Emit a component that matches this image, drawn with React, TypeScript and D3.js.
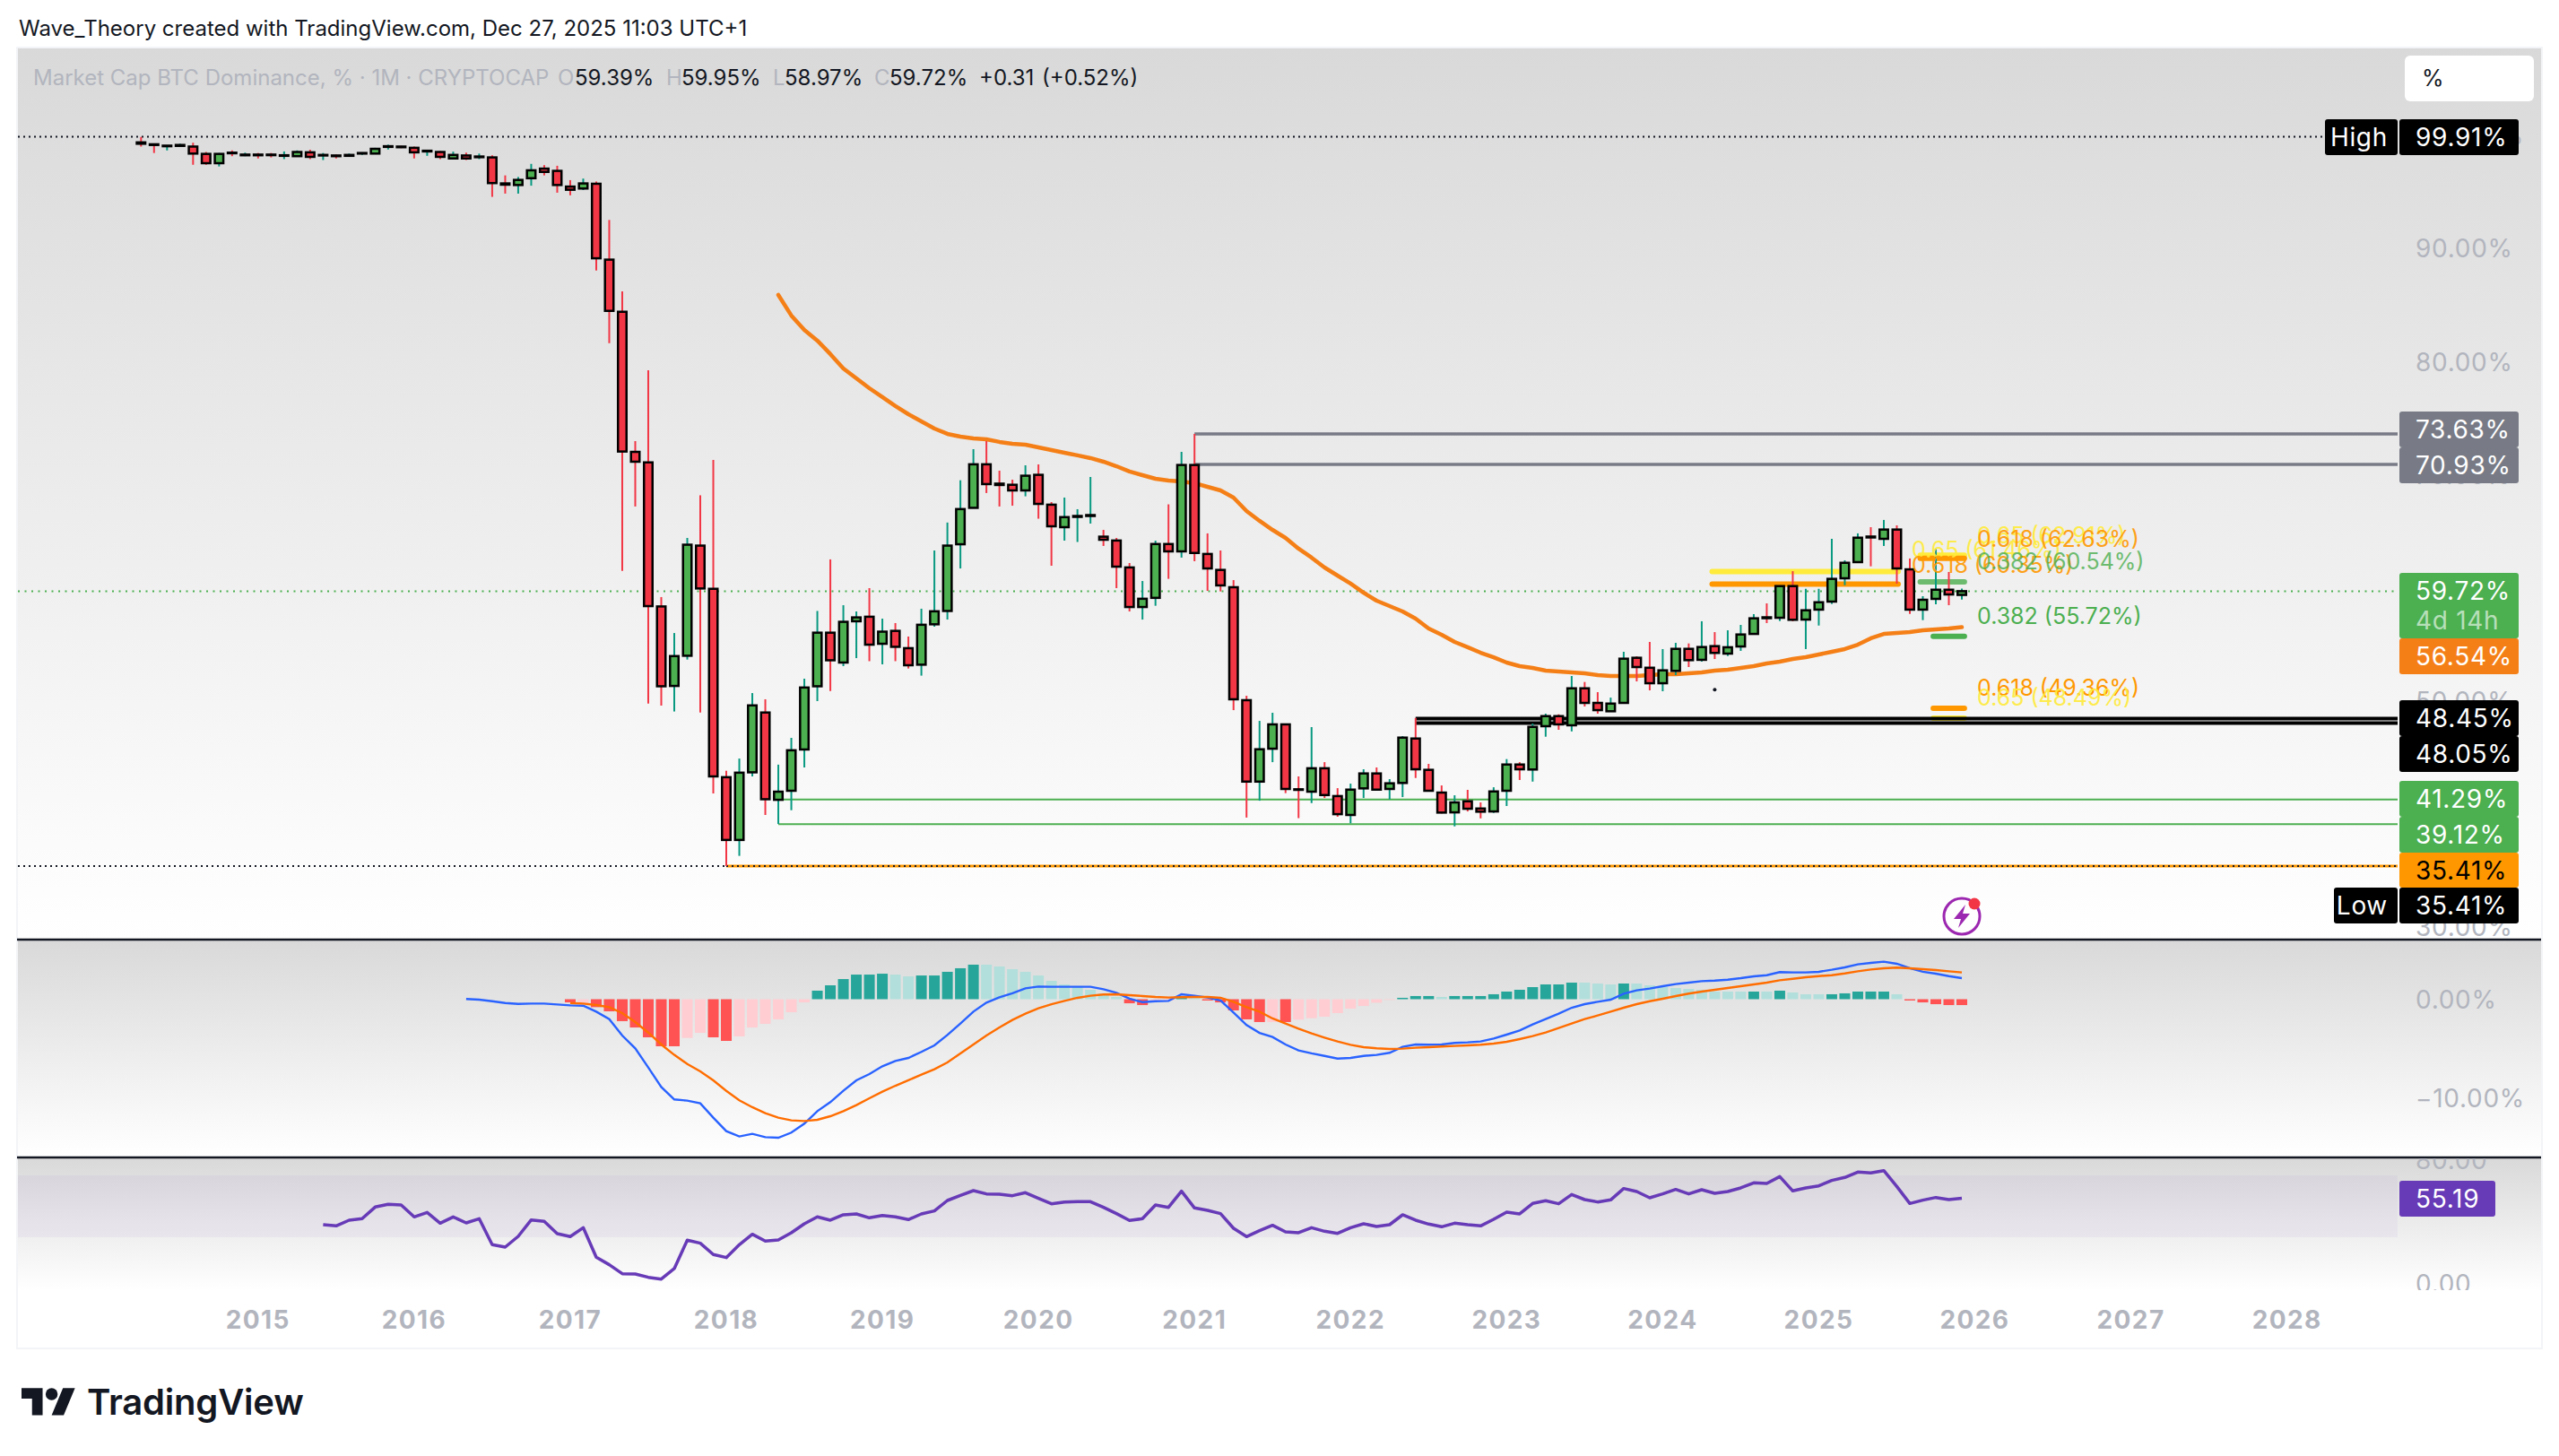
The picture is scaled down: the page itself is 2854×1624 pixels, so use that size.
import React, { useEffect, useRef } from 'react';
import * as d3 from 'd3';

const W = 2854;
const H = 1624;

// monthly candles, Apr 2014 .. Dec 2025
const opens = [99.41,99.24,99.07,99.10,99.04,98.39,97.57,98.50,98.27,98.33,
  98.33,98.22,98.19,98.53,98.25,98.25,98.22,98.42,98.42,99.01,
  99.04,98.93,98.61,98.56,97.99,98.25,98.10,98.08,95.78,95.64,
  96.24,97.09,96.89,95.50,95.33,95.75,89.04,84.43,72.04,71.11,
  58.37,51.34,54.01,63.75,59.93,43.27,37.72,43.70,48.99,41.27,
  42.07,45.72,51.31,56.05,53.41,57.06,57.46,55.07,56.21,54.68,
  53.22,56.79,57.97,63.87,67.09,70.94,69.23,69.13,68.63,70.01,
  67.37,65.38,66.29,66.37,64.54,64.20,61.82,58.32,59.13,63.89,
  63.24,70.88,63.01,61.60,60.07,50.08,42.88,45.79,47.94,42.20,
  41.99,44.06,41.60,39.93,42.28,43.60,42.23,42.76,46.69,43.92,
  41.91,40.16,41.14,40.50,40.24,42.07,44.39,43.95,47.78,48.67,
  47.86,51.13,49.84,49.10,49.84,53.83,52.95,51.58,52.67,54.62,
  53.65,54.86,54.20,54.83,55.94,57.41,57.37,60.17,57.21,58.09,
  58.80,60.86,62.29,64.55,64.35,65.17,61.65,58.09,59.04,59.85,59.39];
const closes = [99.29,99.18,99.12,99.18,98.42,97.57,98.39,98.45,98.33,98.27,
  98.28,98.27,98.56,98.13,98.30,98.19,98.30,98.47,98.84,99.07,
  98.98,98.53,98.67,98.13,98.30,97.99,98.16,95.81,95.67,96.09,
  96.94,96.80,95.64,95.22,95.78,89.16,84.51,72.07,71.17,58.40,
  51.31,53.98,63.83,59.96,43.34,37.72,43.67,49.62,41.32,41.99,
  45.65,51.20,56.05,53.61,57.01,57.40,54.99,56.14,54.80,53.17,
  56.75,57.94,63.75,66.98,70.94,69.19,69.11,68.63,69.93,67.44,
  65.46,66.27,66.37,66.45,64.27,61.89,58.32,59.05,63.89,63.24,
  70.88,63.10,61.73,60.23,50.16,42.88,45.74,47.94,42.23,42.15,
  44.06,41.69,40.00,42.17,43.60,42.17,42.73,46.77,43.97,42.07,
  40.14,41.04,40.48,40.22,42.01,44.39,43.97,47.72,48.67,47.94,
  51.13,49.84,49.20,49.78,53.75,53.01,51.58,52.72,54.62,53.62,
  54.78,54.26,54.76,55.89,57.32,57.33,60.17,57.19,58.03,58.74,
  60.81,62.23,64.45,64.47,65.17,61.73,58.09,58.96,59.85,59.43,59.72];
const highs = [99.89,99.27,99.15,99.29,99.38,98.56,98.47,98.70,98.50,98.47,
  98.47,98.61,98.70,98.76,98.47,98.33,98.42,98.53,98.93,99.21,
  99.10,99.04,98.70,98.64,98.59,98.50,98.42,98.27,96.49,96.35,
  97.51,97.40,97.34,96.07,96.21,95.95,92.55,86.24,72.99,79.26,
  59.20,56.02,64.43,68.20,71.33,43.84,44.92,50.71,50.16,44.38,
  46.75,51.98,57.97,62.53,58.48,57.93,59.99,57.29,56.90,55.71,
  58.17,63.32,65.79,69.53,72.28,72.99,70.38,69.58,70.85,70.93,
  67.60,68.00,66.97,69.82,65.14,64.43,62.21,60.62,64.19,67.40,
  72.04,73.63,64.83,63.32,60.70,50.47,48.25,48.97,47.94,43.34,
  47.70,44.60,42.30,42.70,43.97,44.13,43.10,46.90,48.51,44.45,
  42.54,41.67,42.15,41.04,42.38,44.87,44.60,48.01,48.89,48.83,
  52.22,51.69,50.79,50.31,54.36,53.96,55.23,54.60,55.15,55.10,
  57.06,56.10,56.26,56.74,57.69,58.64,60.17,61.49,59.93,59.93,
  64.35,62.45,64.83,65.38,66.02,65.54,62.61,59.28,63.48,61.42,59.95];
const lows = [99.04,98.47,98.70,99.04,97.43,97.43,97.28,98.19,98.19,97.99,
  98.08,97.93,98.13,97.93,97.85,97.99,98.19,98.30,98.36,98.78,
  98.90,97.99,98.22,97.93,97.93,97.85,97.93,94.59,94.88,94.88,
  95.58,96.49,94.96,94.73,95.19,88.08,81.65,61.51,67.21,49.79,
  49.60,49.08,53.67,48.99,41.83,35.41,36.31,43.34,39.93,39.13,
  40.35,44.13,50.00,50.89,53.09,53.80,53.53,53.25,53.53,52.88,
  52.25,56.58,57.21,61.73,67.09,68.40,67.21,67.28,68.11,66.13,
  61.97,64.19,64.07,65.70,63.72,59.99,57.93,57.21,58.43,60.81,
  62.69,62.37,59.75,59.70,49.20,39.70,41.19,44.60,41.86,39.65,
  40.98,41.43,39.77,39.19,41.43,42.09,41.30,41.51,43.20,42.01,
  40.06,38.92,40.24,39.63,40.11,40.72,43.02,42.88,46.85,47.46,
  47.32,49.52,48.89,49.10,49.84,51.74,50.95,50.87,52.30,53.01,
  53.49,53.72,53.99,54.44,55.94,56.90,57.08,57.06,54.60,56.68,
  58.59,60.25,62.29,61.92,63.72,60.39,57.71,57.16,58.56,58.48,58.97];

// 50 month average, first value is candle 49
const maStart = 49;
const maValues = [85.92,84.10,82.83,81.88,80.69,79.42,78.54,77.67,76.88,76.09,
  75.37,74.74,74.10,73.63,73.39,73.23,73.15,72.92,72.76,72.68,
  72.44,72.20,71.96,71.73,71.49,71.17,70.77,70.30,69.98,69.66,
  69.50,69.43,69.27,68.95,68.63,68.00,66.81,65.94,65.14,64.43,
  63.48,62.69,61.81,61.10,60.39,59.59,58.88,58.40,57.93,57.29,
  56.42,55.87,55.23,54.76,54.28,53.88,53.41,53.09,52.93,52.69,
  52.61,52.54,52.46,52.30,52.22,52.22,52.22,52.30,52.38,52.38,
  52.46,52.54,52.69,52.77,52.93,53.09,53.33,53.49,53.72,53.88,
  54.12,54.36,54.60,54.99,55.55,55.94,56.02,56.10,56.26,56.34,56.42,56.54];

const macdStart = 25;
const macdValues = [0.02,-0.05,-0.20,-0.38,-0.47,-0.44,-0.44,-0.53,-0.62,-0.65,
  -1.25,-2.00,-3.66,-4.95,-6.88,-8.84,-10.10,-10.22,-10.49,-11.94,
  -13.29,-13.83,-13.56,-13.90,-13.96,-13.44,-12.54,-11.28,-10.37,-9.23,
  -8.17,-7.54,-6.76,-6.22,-5.92,-5.31,-4.65,-3.60,-2.45,-1.25,
  -0.35,0.20,0.59,1.10,1.28,1.25,1.25,1.25,1.25,1.01,
  0.65,0.05,-0.29,-0.20,-0.17,0.50,0.35,0.17,-0.13,-1.34,
  -2.60,-3.39,-3.81,-4.56,-5.16,-5.46,-5.71,-5.98,-5.92,-5.71,
  -5.61,-5.40,-4.80,-4.56,-4.59,-4.56,-4.41,-4.35,-4.26,-3.96,
  -3.57,-3.15,-2.54,-2.00,-1.46,-0.86,-0.50,-0.26,-0.05,0.56,
  0.89,1.07,1.31,1.52,1.67,1.82,1.88,1.97,2.12,2.30,
  2.42,2.73,2.70,2.70,2.76,2.97,3.21,3.51,3.66,3.78,
  3.57,3.12,2.76,2.57,2.33,2.12];

const signalStart = 33;
const signalValues = [-0.38,-0.44,-0.59,-0.80,-1.40,-2.30,-3.36,-4.56,-5.61,-6.52,
  -7.27,-8.17,-9.23,-10.19,-10.88,-11.49,-11.94,-12.21,-12.27,-12.15,
  -11.79,-11.28,-10.67,-9.98,-9.32,-8.72,-8.17,-7.60,-7.06,-6.37,
  -5.46,-4.56,-3.66,-2.85,-2.09,-1.46,-0.92,-0.50,-0.17,0.14,
  0.35,0.47,0.50,0.41,0.32,0.23,0.17,0.20,0.23,0.23,
  0.14,-0.26,-0.80,-1.25,-1.94,-2.45,-2.97,-3.45,-3.87,-4.26,
  -4.59,-4.83,-4.95,-5.01,-4.98,-4.89,-4.83,-4.77,-4.71,-4.65,
  -4.59,-4.47,-4.29,-4.02,-3.72,-3.36,-2.91,-2.45,-2.00,-1.64,
  -1.25,-0.86,-0.50,-0.20,0.05,0.32,0.56,0.77,0.95,1.13,
  1.31,1.49,1.67,1.91,2.06,2.21,2.33,2.42,2.60,2.81,
  2.99,3.12,3.18,3.12,3.03,2.94,2.81,2.70];

const histStart = 33;
const histValues = [-0.32,-0.38,-0.80,-1.22,-2.21,-2.85,-3.84,-4.74,-4.74,-3.90,
  -3.39,-3.84,-4.20,-3.75,-2.85,-2.48,-2.03,-1.31,-0.32,0.86,
  1.40,2.03,2.48,2.48,2.57,2.48,2.30,2.39,2.39,2.76,
  3.12,3.48,3.48,3.30,3.03,2.76,2.39,1.85,1.49,1.31,
  0.95,0.56,0.23,-0.41,-0.59,-0.20,-0.13,0.32,0.11,-0.13,
  -0.32,-1.13,-2.03,-2.30,-2.30,-2.30,-2.06,-1.91,-1.76,-1.40,
  -0.95,-0.68,-0.35,-0.07,0.14,0.32,0.32,0.23,0.32,0.32,
  0.32,0.50,0.77,0.95,1.22,1.49,1.49,1.67,1.67,1.58,
  1.49,1.58,1.58,1.40,1.22,1.13,1.04,0.95,0.77,0.77,
  0.77,0.77,0.77,0.86,0.68,0.50,0.50,0.50,0.59,0.77,
  0.77,0.77,0.50,-0.13,-0.32,-0.50,-0.59,-0.59];
// d = strong colour, l = pale colour
const histShade = 'dl' + 'ddddddd' + 'll' + 'dd' + 'llllll' + 'dddddd' + 'll' + 'ddddd' + 'lllllllllll'
  + 'dd' + 'll' + 'd' + 'l' + 'ddddd' + 'l' + 'd' + 'llllllll' + 'ddd' + 'l' + 'dddddddddd'
  + 'lll' + 'd' + 'lllllllll' + 'd' + 'l' + 'd' + 'lll' + 'ddddd' + 'l' + 'ddddd';

const rsiStart = 14;
const rsiValues = [38.12,37.35,41.02,41.99,49.52,51.26,50.88,43.15,46.05,39.09,
  43.15,39.28,41.99,25.18,23.63,30.59,41.22,40.25,32.33,30.40,
  36.19,17.07,12.24,6.44,6.25,4.12,2.96,9.72,28.08,26.15,
  18.81,16.87,25.18,31.94,27.50,28.27,32.91,38.70,43.15,41.02,
  44.50,45.08,42.57,44.11,43.15,41.41,45.08,47.01,53.77,57.06,
  60.15,58.02,57.83,56.86,58.80,55.13,51.65,52.81,53.00,53.00,
  49.33,45.27,40.83,41.99,50.88,49.33,59.76,48.94,47.40,45.27,
  35.81,30.40,34.26,37.74,33.49,32.91,36.19,33.87,32.52,36.19,
  38.70,36.97,38.12,44.50,41.02,38.51,36.77,39.09,38.12,37.35,
  41.60,46.24,45.08,51.84,53.58,51.65,57.64,54.35,52.81,54.16,
  61.50,59.57,55.51,58.02,60.92,58.02,60.73,58.41,59.57,61.89,
  65.17,64.79,69.23,59.96,61.89,63.24,66.72,68.65,72.13,71.55,
  73.09,62.85,51.84,53.97,55.71,54.35,55.19];

const priceTicks = [100, 90, 80, 70, 60, 50, 40, 30];
const macdTicks = [0, -10];
const rsiTicks = [80, 0];
const yearLabels = [2015, 2016, 2017, 2018, 2019, 2020, 2021, 2022, 2023, 2024, 2025, 2026, 2027, 2028];

const FONT = 'Inter, "Liberation Sans", sans-serif';
const GREEN = '#4caf50';
const ORANGE = '#ff9800';
const YELLOW = '#ffeb3b';
const AXIS_TEXT = '#b2b5be';

// [value, from candle, to candle, colour, opacity]
const fibLines: [number, number, number, string, number][] = [
  [61.46, 120.8, 135.1, YELLOW, 1],
  [60.35, 120.8, 135.1, ORANGE, 1],
  [62.91, 136.8, 140.2, YELLOW, 1],
  [62.63, 136.8, 140.2, ORANGE, 1],
  [60.54, 136.8, 140.2, GREEN, 0.8],
  [55.72, 137.8, 140.2, GREEN, 1],
  [49.36, 137.8, 140.2, ORANGE, 1],
  [48.49, 137.8, 140.2, YELLOW, 1],
];
// [text, px x, px y, colour, opacity]
const fibLabels: [string, number, number, string, number][] = [
  ['0.65 (61.46%)', 2132, 613, YELLOW, 0.9],
  ['0.618 (60.35%)', 2132, 630, ORANGE, 0.9],
  ['0.65 (62.91%)', 2205, 597, YELLOW, 0.9],
  ['0.618 (62.63%)', 2205, 601, ORANGE, 0.9],
  ['0.382 (60.54%)', 2205, 626, GREEN, 0.8],
  ['0.382 (55.72%)', 2205, 687, GREEN, 1],
  ['0.618 (49.36%)', 2205, 767, ORANGE, 1],
  ['0.65 (48.49%)', 2205, 778, YELLOW, 0.9],
];

// [text, top, bottom, text centre, fill, text colour]
const priceBoxes: [string, number, number, number, string, string][] = [
  ['99.91%', 133, 173, 153, '#000000', '#ffffff'],
  ['73.63%', 459, 499, 479, '#787b86', '#ffffff'],
  ['70.93%', 499, 539, 519, '#787b86', '#ffffff'],
  ['59.72%', 639, 712, 659, GREEN, '#ffffff'],
  ['56.54%', 712, 752, 732, '#f57f17', '#ffffff'],
  ['48.45%', 781, 821, 801, '#000000', '#ffffff'],
  ['48.05%', 821, 861, 841, '#000000', '#ffffff'],
  ['41.29%', 871, 911, 891, GREEN, '#ffffff'],
  ['39.12%', 911, 951, 931, GREEN, '#ffffff'],
  ['35.41%', 951, 990, 971, ORANGE, '#000000'],
  ['35.41%', 990, 1030, 1010, '#000000', '#ffffff'],
];

function App() {
  const ref = useRef<SVGSVGElement>(null);

  useEffect(() => {
    if (!ref.current) return;
    const svg: any = d3.select(ref.current);
    svg.selectAll('*').remove();

    const x = d3.scaleLinear().domain([0, 140]).range([157.3, 2188]);
    const y = d3.scaleLinear().domain([35.41, 99.91]).range([966, 152.5]);
    const yMacd = d3.scaleLinear().domain([0, -10]).range([1114.5, 1225.2]);
    const yRsi = d3.scaleLinear().domain([30, 70]).range([1380, 1311]);

    const paneLeft = 20;
    const paneRight = 2834;
    const plotRight = 2674;
    const axisAttrs = { size: 28, spacing: 0.7 };

    const defs = svg.append('defs');
    const grad = defs.append('linearGradient').attr('id', 'pane').attr('x1', 0).attr('x2', 0).attr('y1', 0).attr('y2', 1);
    grad.append('stop').attr('offset', 0).attr('stop-color', '#d9d9d9');
    grad.append('stop').attr('offset', 1).attr('stop-color', '#ffffff');
    defs.append('clipPath').attr('id', 'rsiClip').append('rect')
      .attr('x', 0).attr('y', 1292).attr('width', W).attr('height', 147);
    defs.append('clipPath').attr('id', 'mainClip').append('rect')
      .attr('x', 0).attr('y', 54).attr('width', W).attr('height', 993);

    svg.append('rect').attr('width', W).attr('height', H).attr('fill', '#ffffff');

    // header
    svg.append('text').attr('x', 21).attr('y', 40).attr('font-size', 24).attr('fill', '#131722')
      .attr('font-family', FONT).text('Wave_Theory created with TradingView.com, Dec 27, 2025 11:03 UTC+1');

    // panes
    svg.append('rect').attr('x', 19).attr('y', 53).attr('width', paneRight - 18).attr('height', 1451)
      .attr('fill', 'none').attr('stroke', '#f3f4f7').attr('stroke-width', 2);
    [[54, 1047], [1049, 1290], [1292, 1440]].forEach(([a, b]) => {
      svg.append('rect').attr('x', paneLeft).attr('y', a).attr('width', paneRight - paneLeft).attr('height', b - a)
        .attr('fill', 'url(#pane)');
    });
    [1048, 1291].forEach((v) => {
      svg.append('line').attr('x1', 19).attr('x2', paneRight).attr('y1', v).attr('y2', v)
        .attr('stroke', '#131722').attr('stroke-width', 2.5);
    });

    // legend
    const legend: [string, number, string][] = [
      ['Market Cap BTC Dominance, % · 1M · CRYPTOCAP', 37, AXIS_TEXT],
      ['O', 622, AXIS_TEXT], ['59.39%', 641, '#131722'],
      ['H', 743, AXIS_TEXT], ['59.95%', 760, '#131722'],
      ['L', 862, AXIS_TEXT], ['58.97%', 875, '#131722'],
      ['C', 975, AXIS_TEXT], ['59.72%', 992, '#131722'],
      ['+0.31', 1092, '#131722'], ['(+0.52%)', 1162, '#131722'],
    ];
    svg.append('g').selectAll('text').data(legend).enter().append('text')
      .attr('x', (d: any) => d[1]).attr('y', 86).attr('dominant-baseline', 'central')
      .attr('font-size', 24).attr('font-family', FONT).attr('fill', (d: any) => d[2]).text((d: any) => d[0]);

    // price axis labels sit under the boxes
    const axisText = svg.append('g').attr('font-family', FONT).attr('font-size', axisAttrs.size)
      .attr('letter-spacing', axisAttrs.spacing).attr('fill', AXIS_TEXT);
    axisText.append('g').attr('clip-path', 'url(#mainClip)').selectAll('text').data(priceTicks).enter().append('text')
      .attr('x', 2694).attr('y', (d: number) => y(d)).attr('dominant-baseline', 'central')
      .text((d: number) => d3.format('.2f')(d) + '%');
    axisText.append('g').selectAll('text').data(macdTicks).enter().append('text')
      .attr('x', 2694).attr('y', (d: number) => yMacd(d)).attr('dominant-baseline', 'central')
      .text((d: number) => (d < 0 ? '−' : '') + d3.format('.2f')(Math.abs(d)) + '%');
    axisText.append('g').attr('clip-path', 'url(#rsiClip)').selectAll('text').data(rsiTicks).enter().append('text')
      .attr('x', 2694).attr('y', (d: number) => yRsi(d)).attr('dominant-baseline', 'central')
      .text((d: number) => d3.format('.2f')(d));
    axisText.append('g').attr('font-weight', 700).attr('letter-spacing', 1.4).selectAll('text').data(yearLabels).enter().append('text')
      .attr('x', (d: number) => x((d - 2014) * 12 - 3)).attr('y', 1472).attr('text-anchor', 'middle')
      .attr('dominant-baseline', 'central').text((d: number) => d);

    // fib strokes go under the black levels
    svg.append('g').selectAll('line').data(fibLines).enter().append('line')
      .attr('x1', (d: any) => x(d[1])).attr('x2', (d: any) => x(d[2]))
      .attr('y1', (d: any) => y(d[0])).attr('y2', (d: any) => y(d[0]))
      .attr('stroke', (d: any) => d[3]).attr('opacity', (d: any) => d[4])
      .attr('stroke-width', 6).attr('stroke-linecap', 'round');

    // level lines
    const levels = svg.append('g');
    const level = (v: number, from: number, color: string, width: number, dash?: string, xFrom?: number, xTo?: number) => {
      levels.append('line')
        .attr('x1', xFrom ?? x(from)).attr('x2', xTo ?? plotRight)
        .attr('y1', y(v)).attr('y2', y(v))
        .attr('stroke', color).attr('stroke-width', width)
        .attr('stroke-dasharray', dash ?? null);
    };
    level(99.91, 0, '#131722', 2, '2 4', paneLeft, 2590);
    level(59.72, 0, GREEN, 2, '2 5.5', paneLeft, plotRight);
    level(73.63, 81, '#787b86', 3.5);
    level(70.93, 81, '#787b86', 3.5);
    level(48.45, 98, '#000000', 4);
    level(48.05, 98, '#000000', 4);
    level(41.29, 49, GREEN, 2);
    level(39.12, 49, GREEN, 2);
    level(35.41, 0, '#131722', 2, '2 4', paneLeft, x(45));
    level(35.41, 45, ORANGE, 3);
    level(35.41, 45, '#131722', 2, '2 4');

    // small stray mark
    svg.append('circle').attr('cx', x(121)).attr('cy', y(51.0)).attr('r', 2).attr('fill', '#131722');

    // 50 month average
    const maLine = d3.line<number>().x((_, i) => x(i + maStart)).y((d) => y(d));
    svg.append('path').attr('d', maLine(maValues)).attr('fill', 'none').attr('stroke', '#f57f17')
      .attr('stroke-width', 4.5).attr('stroke-linecap', 'round').attr('stroke-linejoin', 'round');

    // candles
    const candles = svg.append('g').selectAll('g').data(opens).enter().append('g')
      .attr('transform', (_: number, i: number) => `translate(${x(i)},0)`);
    candles.append('line')
      .attr('y1', (_: number, i: number) => y(highs[i])).attr('y2', (_: number, i: number) => y(lows[i]))
      .attr('stroke', (_: number, i: number) => (closes[i] >= opens[i] ? '#089981' : '#f23645'))
      .attr('stroke-width', 2);
    candles.append('rect')
      .attr('x', -4.75).attr('width', 9.5)
      .attr('y', (_: number, i: number) => y(Math.max(opens[i], closes[i])))
      .attr('height', (_: number, i: number) => Math.abs(y(opens[i]) - y(closes[i])))
      .attr('fill', (_: number, i: number) => (closes[i] >= opens[i] ? GREEN : '#f23645'))
      .attr('stroke', '#000000').attr('stroke-width', 2.5);

    svg.append('g').attr('font-family', FONT).attr('font-size', 25).selectAll('text').data(fibLabels).enter().append('text')
      .attr('x', (d: any) => d[1]).attr('y', (d: any) => d[2]).attr('dominant-baseline', 'central')
      .attr('fill', (d: any) => d[3]).attr('opacity', (d: any) => d[4]).text((d: any) => d[0]);

    // alert icon
    const icon = svg.append('g').attr('transform', 'translate(2188,1022)');
    icon.append('circle').attr('r', 20).attr('fill', 'none').attr('stroke', '#9c27b0').attr('stroke-width', 3);
    icon.append('path').attr('d', 'M4 -13 L-9 3 L-1 3 L-4 13 L9 -3 L1 -3 Z').attr('fill', '#9c27b0');
    icon.append('circle').attr('cx', 14).attr('cy', -14).attr('r', 6.5).attr('fill', '#f23645');

    // price boxes
    const boxes = svg.append('g').attr('font-family', FONT).attr('font-size', axisAttrs.size).attr('letter-spacing', axisAttrs.spacing);
    priceBoxes.forEach(([label, top, bottom, mid, fill, color]) => {
      boxes.append('rect').attr('x', 2676).attr('y', top).attr('width', 133).attr('height', bottom - top)
        .attr('rx', 3).attr('fill', fill);
      boxes.append('text').attr('x', 2694).attr('y', mid).attr('dominant-baseline', 'central')
        .attr('fill', color).text(label);
    });
    boxes.append('text').attr('x', 2694).attr('y', 692).attr('dominant-baseline', 'central')
      .attr('fill', '#ffffff').attr('opacity', 0.6).text('4d 14h');
    [['High', 2593, 153], ['Low', 2603, 1010]].forEach(([t, left, mid]: any) => {
      boxes.append('rect').attr('x', left).attr('y', mid - 20).attr('width', 2674 - left).attr('height', 40)
        .attr('rx', 3).attr('fill', '#000000');
      boxes.append('text').attr('x', 2663).attr('y', mid).attr('text-anchor', 'end').attr('dominant-baseline', 'central')
        .attr('fill', '#ffffff').text(t);
    });

    // scale button
    svg.append('rect').attr('x', 2682).attr('y', 62).attr('width', 144).attr('height', 51).attr('rx', 6).attr('fill', '#ffffff');
    svg.append('text').attr('x', 2701).attr('y', 87).attr('font-size', 25).attr('font-family', FONT)
      .attr('dominant-baseline', 'central').attr('fill', '#131722').text('%');

    // macd pane
    svg.append('g').selectAll('rect').data(histValues).enter().append('rect')
      .attr('x', (_: number, i: number) => x(i + histStart) - 6).attr('width', 12)
      .attr('y', (d: number) => Math.min(yMacd(d), yMacd(0)))
      .attr('height', (d: number) => Math.abs(yMacd(d) - yMacd(0)))
      .attr('fill', (d: number, i: number) => {
        const dark = histShade[i] === 'd';
        if (d >= 0) return dark ? '#26a69a' : '#b2dfdb';
        return dark ? '#ff5252' : '#ffcdd2';
      });
    const macdLine = d3.line<number>().x((_, i) => x(i + macdStart)).y((d) => yMacd(d));
    const signalLine = d3.line<number>().x((_, i) => x(i + signalStart)).y((d) => yMacd(d));
    svg.append('path').attr('d', macdLine(macdValues)).attr('fill', 'none').attr('stroke', '#2962ff').attr('stroke-width', 2.4);
    svg.append('path').attr('d', signalLine(signalValues)).attr('fill', 'none').attr('stroke', '#ff6d00').attr('stroke-width', 2.4);

    // rsi pane
    svg.append('rect').attr('x', paneLeft).attr('width', plotRight - paneLeft)
      .attr('y', yRsi(70)).attr('height', yRsi(30) - yRsi(70)).attr('fill', '#7e57c2').attr('fill-opacity', 0.05);
    const rsiLine = d3.line<number>().x((_, i) => x(i + rsiStart)).y((d) => yRsi(d));
    svg.append('path').attr('d', rsiLine(rsiValues)).attr('fill', 'none').attr('stroke', '#673ab7')
      .attr('stroke-width', 3.5).attr('stroke-linejoin', 'round');
    svg.append('rect').attr('x', 2676).attr('y', 1317).attr('width', 107).attr('height', 40).attr('rx', 3).attr('fill', '#673ab7');
    svg.append('text').attr('x', 2694).attr('y', 1337).attr('font-size', axisAttrs.size).attr('letter-spacing', axisAttrs.spacing)
      .attr('font-family', FONT).attr('dominant-baseline', 'central').attr('fill', '#ffffff').text('55.19');

    // logo
    const logo = svg.append('g').attr('fill', '#131722');
    logo.append('path').attr('transform', 'translate(24,1541.5) scale(1.68)')
      .attr('d', 'M14 22H7V11H0V4h14v18zM28 22h-8l7.5-18h8L28 22z');
    logo.append('circle').attr('cx', 24 + 20 * 1.68).attr('cy', 1541.5 + 8 * 1.68).attr('r', 4 * 1.68);
    logo.append('text').attr('x', 97).attr('y', 1578).attr('font-size', 40).attr('font-weight', 600)
      .attr('font-family', FONT).attr('letter-spacing', -0.2).text('TradingView');
  }, []);

  return <svg ref={ref} width={W} height={H} viewBox={`0 0 ${W} ${H}`} style={{ position: 'absolute', left: 0, top: 0, display: 'block' }} />;
}

export default App;
